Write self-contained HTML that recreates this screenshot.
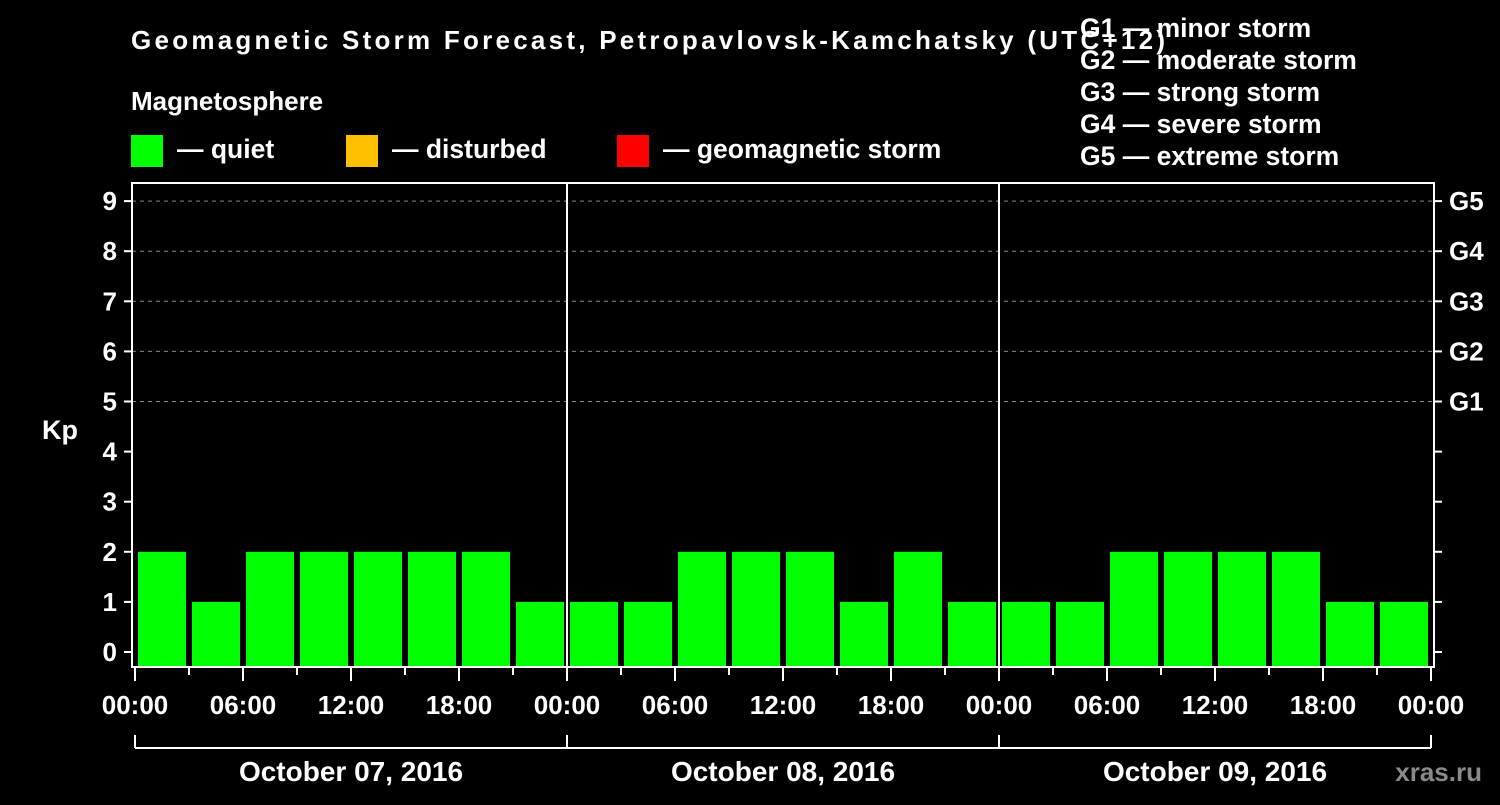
<!DOCTYPE html>
<html><head><meta charset="utf-8"><style>
body{margin:0;background:#000;width:1500px;height:800px;overflow:hidden;font-family:"Liberation Sans",sans-serif;}
svg text{font-family:"Liberation Sans",sans-serif;font-weight:bold;fill:#fff;}
</style></head><body>
<svg width="1500" height="800">
<rect width="1500" height="800" fill="#000"/>
<text x="131" y="49" font-size="26" textLength="1034" lengthAdjust="spacing">Geomagnetic Storm Forecast, Petropavlovsk-Kamchatsky (UTC+12)</text>
<text x="131" y="110" font-size="26">Magnetosphere</text>
<rect x="131" y="135" width="32" height="32" fill="#00ff00"/>
<text x="177" y="158" font-size="26.5">— quiet</text>
<rect x="346" y="135" width="32" height="32" fill="#ffc000"/>
<text x="392" y="158" font-size="26.5">— disturbed</text>
<rect x="617" y="135" width="32" height="32" fill="#ff0000"/>
<text x="663" y="158" font-size="26.5">— geomagnetic storm</text>
<g font-size="26.5">
<text x="1080" y="37">G1 — minor storm</text>
<text x="1080" y="69">G2 — moderate storm</text>
<text x="1080" y="101">G3 — strong storm</text>
<text x="1080" y="133">G4 — severe storm</text>
<text x="1080" y="165">G5 — extreme storm</text>
</g>
<text x="42" y="439" font-size="27">Kp</text>
<text x="1482" y="781" font-size="26" text-anchor="end" style="fill:#8a8a8a">xras.ru</text>
<g id="grid"></g><g id="bars"></g><g id="axes"></g>
</svg>
<script>
const kpValues=[2,1,2,2,2,2,2,1, 1,1,2,2,2,1,2,1, 1,1,2,2,2,2,1,1];
const dayLabels=["October 07, 2016","October 08, 2016","October 09, 2016"];
const hourLabels=["00:00","06:00","12:00","18:00"];
const yTicks=[0,1,2,3,4,5,6,7,8,9];
const gLabels=["G1","G2","G3","G4","G5"];
const NS="http://www.w3.org/2000/svg";
const X0=135,SLOT=54,DAYW=432,PL=132,PR=1434,PT=183,PB=667;
const yScale=v=>652-v*50.1;
const xScale=i=>X0+i*SLOT;
function mk(t,a,p){const e=document.createElementNS(NS,t);for(const k in a)e.setAttribute(k,a[k]);p.appendChild(e);return e;}
const grid=document.getElementById('grid'),bars=document.getElementById('bars'),axes=document.getElementById('axes');
for(let k=5;k<=9;k++){const l=mk('line',{x1:PL,x2:PR,y1:yScale(k),y2:yScale(k),stroke:'#888','stroke-dasharray':'4,4','stroke-width':1},grid);

}
kpValues.forEach((v,i)=>{const r=mk('rect',{x:xScale(i)+3,y:yScale(v),width:48,height:PB-yScale(v),fill:v>=5?'#ff0000':(v>=4?'#ffc000':'#00ff00')},bars);

});
const f=mk('rect',{x:PL,y:PT,width:PR-PL,height:PB-PT,fill:'none',stroke:'#fff','stroke-width':2},axes);


for(let d=1;d<3;d++){const l=mk('line',{x1:X0+d*DAYW,x2:X0+d*DAYW,y1:PT,y2:PB,stroke:'#fff','stroke-width':2},axes);

}
yTicks.forEach(v=>{mk('line',{x1:124,x2:PL,y1:yScale(v),y2:yScale(v),stroke:'#fff','stroke-width':2},axes);
mk('line',{x1:PR,x2:1442,y1:yScale(v),y2:yScale(v),stroke:'#fff','stroke-width':2},axes);
const t=mk('text',{x:117,y:yScale(v)+9,'font-size':26,'text-anchor':'end'},axes);t.textContent=v;

});
gLabels.forEach((g,i)=>{const t=mk('text',{x:1449,y:yScale(5+i)+9,'font-size':26},axes);t.textContent=g;

});
for(let i=0;i<=24;i++){const long=i%2===0;mk('line',{x1:xScale(i),x2:xScale(i),y1:PB,y2:long?681:675,stroke:'#fff','stroke-width':2},axes);
if(long){const t=mk('text',{x:xScale(i),y:714,'font-size':26,'text-anchor':'middle'},axes);t.textContent=hourLabels[(i/2)%4];

}}
mk('line',{x1:X0,x2:X0+3*DAYW,y1:748,y2:748,stroke:'#fff','stroke-width':2},axes);
for(let d=0;d<=3;d++)mk('line',{x1:X0+d*DAYW,x2:X0+d*DAYW,y1:735,y2:748,stroke:'#fff','stroke-width':2},axes);
dayLabels.forEach((s,d)=>{const t=mk('text',{x:X0+d*DAYW+DAYW/2,y:781,'font-size':28,'text-anchor':'middle'},axes);t.textContent=s;

});
</script>
</body></html>
